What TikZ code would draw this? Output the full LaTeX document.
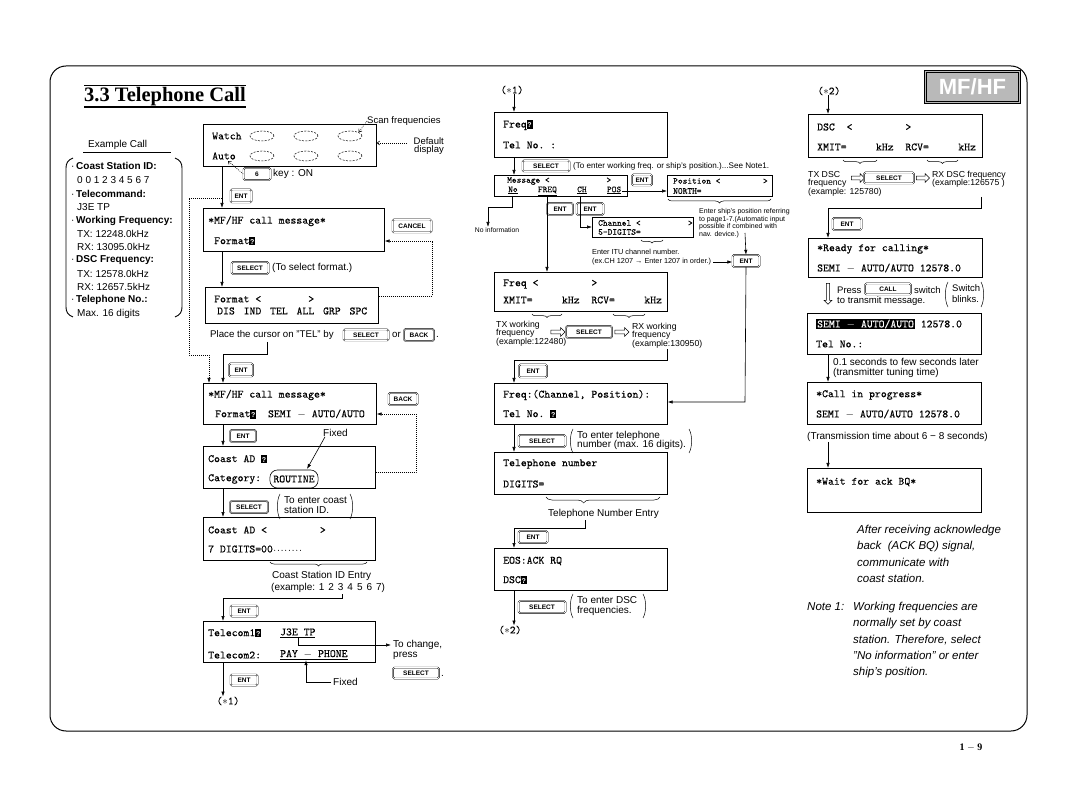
\documentclass[tikz,border=0pt]{standalone}
\usepackage{fontspec}
\setmainfont{Liberation Sans}
\setmonofont{lmmono10-regular.otf}[FakeBold=0.15]
\newfontfamily\serifbf{Liberation Serif}
\usetikzlibrary{arrows.meta,shapes.geometric,shapes.arrows,decorations.pathreplacing}
\newcommand{\crsr}{{\setlength{\fboxsep}{0.3pt}\colorbox{black}{\makebox[5.2pt]{\rule[-1pt]{0pt}{8.3pt}\textcolor{white}{\rmfamily\bfseries\fontsize{7}{7}\selectfont ?}}}}}
\newcommand{\invtxt}[1]{{\setlength{\fboxsep}{1pt}\colorbox{black}{\textcolor{white}{#1}}}}
\newcommand{\lpr}[3]{\draw[prn] (#1,#2) .. controls +(-3.5,6) and +(-3.5,-6) .. (#1,#3);}
\newcommand{\rpr}[3]{\draw[prn] (#1,#2) .. controls +(3.5,6) and +(3.5,-6) .. (#1,#3);}
\newcommand{\starnum}[1]{{\ttfamily(}$\ast${\ttfamily#1)}}
\begin{document}
\begin{tikzpicture}[x=1pt,y=-1pt,
  dispbox/.style={draw,line width=0.7pt,inner sep=0pt,anchor=north west},
  kbd/.style={draw,line width=0.4pt,double=white,double distance=0.7pt,rounded corners=1.5pt,inner sep=0pt,font={\bfseries\fontsize{6.5}{7}\selectfont}},
  mono/.style={anchor=west,inner sep=0pt,font={\ttfamily\fontsize{11.2}{12}\selectfont}},
  smono/.style={anchor=west,inner sep=0pt,font={\ttfamily\fontsize{9}{10}\selectfont}},
  lbl/.style={anchor=west,inner sep=0pt,font={\fontsize{10}{11}\selectfont}},
  mlbl/.style={anchor=north west,inner sep=0pt,align=left,font={\fontsize{10}{10}\selectfont}},
  slbl/.style={anchor=north west,inner sep=0pt,align=left,font={\fontsize{8.7}{8.4}\selectfont}},
  tlbl/.style={anchor=north west,inner sep=0pt,align=left,font={\fontsize{7}{7.8}\selectfont}},
  exl/.style={anchor=west,inner sep=0pt,font={\fontsize{10}{11}\selectfont}},
  ital/.style={anchor=north west,inner sep=0pt,align=left,font={\itshape\fontsize{11.5}{16.3}\selectfont}},
  conn/.style={line width=0.6pt,-{Latex[length=5pt,width=3.4pt]}},
  dconn/.style={line width=0.6pt,dash pattern=on 0.8pt off 1.2pt},
  dconna/.style={dconn,-{Latex[length=5pt,width=3.4pt]}},
  openarr/.style={dconn,-{Straight Barb[length=2.5pt,width=4pt]}},
  brc/.style={decorate,decoration={brace,mirror,amplitude=4pt},line width=0.5pt},
  harrow/.style={single arrow,draw,line width=0.5pt,inner sep=1.6pt,single arrow head extend=2.4pt,minimum height=14pt},
  dell/.style={ellipse,draw,dash pattern=on 2pt off 1.4pt,line width=0.5pt,minimum width=24pt,minimum height=10pt,inner sep=0pt},
  prn/.style={line width=0.5pt}]

\useasboundingbox (0,0) rectangle (1080,794);
\fill[white] (0,0) rectangle (1080,794);

% page frame
\draw[line width=1pt,rounded corners=16pt] (50,66) rectangle (1027,731);

% title
\node[anchor=base west,inner sep=0pt,font={\serifbf\bfseries\fontsize{20.5}{24}\selectfont}] (title) at (84,102) {3.3 Telephone Call};
\draw[line width=0.8pt] (84,85) -- (246,85);
\draw[line width=1.3pt] (84,107) -- (246,107);

% MF/HF badge
\node[draw,line width=1pt,fill=gray!55,minimum width=96pt,minimum height=33pt,anchor=north west,inner sep=0pt,text=white,font={\bfseries\fontsize{22}{22}\selectfont}] (mfhf) at (924,70) {MF/HF};
\draw[line width=0.5pt] ([shift={(2.5,2.5)}]mfhf.north west) rectangle ([shift={(-2.5,-2.5)}]mfhf.south east);

% Example call panel
\node[exl] (exc) at (88,145) {Example Call};
\draw[line width=0.8pt] (83,152) -- (171,152);
\draw[line width=0.9pt] (73,158) .. controls (68,160) and (66,163) .. (66,168) -- (66,307) .. controls (66,312) and (68,315) .. (73,317);
\draw[line width=0.9pt] (175,158) .. controls (180,160) and (182,163) .. (182,168) -- (182,307) .. controls (182,312) and (180,315) .. (175,317);
\node[exl] (x1) at (71,166) {\textperiodcentered\,\textbf{Coast Station ID:}};
\node[exl] (x2) at (77,180) {0 0 1 2 3 4 5 6 7};
\node[exl] (x3) at (71,194) {\textperiodcentered\,\textbf{Telecommand:}};
\node[exl] (x4) at (77,207) {J3E TP};
\node[exl] (x5) at (71,221) {\textperiodcentered\,\textbf{Working Frequency:}};
\node[exl] (x6) at (77,234) {TX: 12248.0kHz};
\node[exl] (x7) at (77,247) {RX: 13095.0kHz};
\node[exl] (x8) at (71,260) {\textperiodcentered\,\textbf{DSC Frequency:}};
\node[exl] (x9) at (77,274) {TX: 12578.0kHz};
\node[exl] (x10) at (77,287) {RX: 12657.5kHz};
\node[exl] (x11) at (71,300) {\textperiodcentered\,\textbf{Telephone No.:}};
\node[exl] (x12) at (77,314) {Max. 16 digits};

% ================= LEFT COLUMN =================
\coordinate (cx1) at (222,0);
\coordinate (cx2) at (223,0);

\node[dispbox,minimum width=173pt,minimum height=42pt] (wb) at (203,124) {};
\node[mono] (wba) at (212,136) {Watch};
\node[mono] (wbb) at (212,156) {Auto};
\node[dell] (el11) at (262,136) {};
\node[dell] (el12) at (306,136) {};
\node[dell] (el13) at (350,136) {};
\node[dell] (el21) at (262,156) {};
\node[dell] (el22) at (306,156) {};
\node[dell] (el23) at (350,156) {};
\node[anchor=west,inner sep=0pt,font={\fontsize{9.5}{10}\selectfont}] (scan) at (367,121) {Scan frequencies};
\node[anchor=east,inner sep=0pt,align=right,font={\fontsize{9.5}{8.5}\selectfont}] (defd) at (444,146) {Default\\display};
\coordinate (defa) at (407,143);

\node[kbd,minimum width=27pt,minimum height=12pt] (k6) at (257,174) {6};
\node[lbl] (k6t) at (273,174) {key : ON};
\coordinate (autop) at (228,161);

\node[kbd,minimum width=21pt,minimum height=13pt] (ent1) at (241,196) {ENT};
\coordinate (br1) at (222,198);
\coordinate (br2) at (189,198);
\coordinate (br3) at (189,355);
\coordinate (br4) at (209,355);

\node[dispbox,minimum width=181pt,minimum height=43pt] (m1) at (203,208) {};
\node[mono] (m1a) at (208,221) {*MF/HF call message*};
\node[mono] (m1b) at (214,241) {Format\crsr};
\node[kbd,minimum width=39pt,minimum height=13pt] (kc) at (412,226) {CANCEL};

\node[kbd,minimum width=37pt,minimum height=12pt] (s1) at (250,268) {SELECT};
\node[lbl] (s1t) at (272,268) {(To select format.)};

\node[dispbox,minimum width=173pt,minimum height=36pt] (fm) at (205,287) {};
\node[mono] (fma) at (214,299) {Format <~~~~~~~~>};
\node[mono] (fmb) at (217,311) {\makebox[150pt][l]{DIS\hfill IND\hfill TEL\hfill ALL\hfill GRP\hfill SPC}};
\coordinate (cd1) at (432,296);

\node[lbl,font={\fontsize{9.7}{11}\selectfont}] (pc) at (210,335) {Place the cursor on "TEL" by};
\node[kbd,minimum width=45pt,minimum height=11pt] (s2) at (366,335) {SELECT};
\node[lbl,font={\fontsize{9.7}{11}\selectfont}] (pcor) at (392,335) {or};
\node[kbd,minimum width=30pt,minimum height=12pt] (kb1) at (419,335) {BACK};
\node[lbl] (pcdot) at (436,337) {.};

\coordinate (pl1) at (267,342);
\coordinate (pl2) at (267,354);
\node[kbd,minimum width=24pt,minimum height=13pt] (ent2) at (241,370) {ENT};

\node[dispbox,minimum width=173pt,minimum height=41pt] (m2) at (203,383) {};
\node[mono] (m2a) at (208,395) {*MF/HF call message*};
\node[mono] (m2b) at (215,414) {Format\crsr~~SEMI $-$ AUTO/AUTO};
\node[kbd,minimum width=29pt,minimum height=12pt] (kb2) at (403,399) {BACK};

\node[kbd,minimum width=26pt,minimum height=12pt] (ent3) at (243,436) {ENT};
\node[lbl] (fx1) at (323,433) {Fixed};
\coordinate (rtp) at (307,469);

\node[dispbox,minimum width=172pt,minimum height=42pt] (ca) at (203,446) {};
\node[mono] (caa) at (208,459) {Coast AD \crsr};
\node[mono] (cab) at (208,479) {Category:};
\node[mono,anchor=center,draw,line width=0.6pt,rounded corners=7.5pt,inner xsep=3.5pt,inner ysep=0pt,minimum height=18pt] (rt) at (294,479) {ROUTINE};
\coordinate (bd1) at (416,472);

\node[kbd,minimum width=38pt,minimum height=12pt] (s3) at (249,507) {SELECT};
\node[mlbl,font={\fontsize{10}{10.5}\selectfont}] (s3t) at (284,496) {To enter coast\\station ID.};
\lpr{280}{494}{519}
\rpr{350}{494}{519}

\node[dispbox,minimum width=172pt,minimum height=43pt] (cb) at (203,517) {};
\node[mono] (cba) at (208,530) {Coast AD <~~~~~~~~~>};
\node[mono] (cbb) at (208,549) {7 DIGITS=00{\fontsize{7}{7}\selectfont ········}};
\coordinate (cbr1) at (270,562);
\coordinate (cbr2) at (367,562);
\draw[brc] (cbr1) -- (cbr2);
\node[lbl] (cse) at (272,576) {Coast Station ID Entry};
\node[lbl] (cse2) at (271,588) {(example: 1\hspace{4pt}2\hspace{4pt}3\hspace{4pt}4\hspace{4pt}5\hspace{4pt}6\hspace{4pt}7)};
\coordinate (cl1) at (342,594);
\coordinate (cl2) at (342,598);
\node[kbd,minimum width=27pt,minimum height=11pt] (ent4) at (244,611) {ENT};

\node[dispbox,minimum width=172pt,minimum height=41pt] (tc) at (203,621) {};
\node[mono] (tca) at (208,633) {Telecom1\crsr};
\node[mono] (tcb) at (280,633) {\underline{J3E TP}};
\node[mono] (tcc) at (208,655) {Telecom2:};
\node[mono] (tcd) at (280,655) {\underline{PAY $-$ PHONE}};
\node[lbl] (tochg) at (393,645) {To change,};
\node[lbl] (press) at (393,656) {press};
\node[kbd,minimum width=46pt,minimum height=11pt] (s4) at (416,673) {SELECT};
\node[lbl] (pdot) at (441,676) {.};
\node[lbl] (fx2) at (333,682) {Fixed};
\coordinate (fxc) at (306,682);

\node[inner sep=0pt,font={\fontsize{11}{12}\selectfont}] (st1) at (228,701) {\starnum{1}};
\node[kbd,minimum width=27pt,minimum height=11pt] (ent5) at (244,680) {ENT};

% ================= MIDDLE COLUMN =================
\coordinate (mx) at (514,0);
\node[inner sep=0pt,font={\fontsize{11}{12}\selectfont}] (st1b) at (512,90) {\starnum{1}};

\node[dispbox,minimum width=173pt,minimum height=45pt] (f1) at (494,112) {};
\node[mono] (f1a) at (503,125) {Freq\crsr};
\node[mono] (f1b) at (503,145) {Tel No. :};
\node[kbd,minimum width=47pt,minimum height=11pt] (s5) at (546,166) {SELECT};
\node[anchor=west,inner sep=0pt,font={\fontsize{8.1}{9}\selectfont}] (nt1) at (573,166) {(To enter working freq. or ship's position.)...See Note1.};

\node[dispbox,minimum width=133pt,minimum height=21pt] (msg) at (494,175) {};
\node[smono] (msga) at (507,181) {Message <~~~~~~~~~~~~>};
\node[smono] (msgb) at (508,191) {\makebox[113pt][l]{\underline{No}\hfill\underline{FREQ}\hfill\underline{CH}\hfill\underline{POS}}};
\node[kbd,minimum width=20pt,minimum height=11pt] (ent6) at (642,180) {ENT};

\node[dispbox,minimum width=105pt,minimum height=21pt] (pos) at (667,175) {};
\node[smono] (posa) at (673,181) {Position <~~~~~~~~~>};
\node[smono] (posb) at (673,191) {NORTH=};
\coordinate (pbr1) at (668,199);
\coordinate (pbr2) at (771,199);
\draw[brc] (pbr1) -- (pbr2);
\node[tlbl] (pnote) at (699,208) {Enter ship's position referring\\to page1-7.(Automatic input\\possible if combined with\\nav. device.)};
\coordinate (pn1) at (745,233);
\node[kbd,minimum width=27pt,minimum height=12pt] (ent7) at (746,261) {ENT};

\node[kbd,minimum width=26pt,minimum height=12pt] (ent8) at (560,209) {ENT};
\node[kbd,minimum width=27pt,minimum height=12pt] (ent9) at (590,209) {ENT};

\node[dispbox,minimum width=101pt,minimum height=20pt] (ch) at (592,217) {};
\node[smono] (cha) at (598,223) {Channel <~~~~~~~~~~>};
\node[smono] (chb) at (598,232) {5-DIGITS=};
\coordinate (chbr1) at (641,240);
\coordinate (chbr2) at (663,240);
\draw[brc,decoration={amplitude=3pt}] (chbr1) -- (chbr2);
\node[tlbl,font={\fontsize{7.3}{9}\selectfont}] (itu) at (592,249) {Enter ITU channel number.\\(ex.CH 1207 → Enter 1207 in order.)};
\coordinate (it1) at (713,262);

\coordinate (pCh) at (580,196);
\coordinate (chy) at (580,227);
\coordinate (pNo) at (512,196);
\coordinate (no1) at (512,207);
\coordinate (no2) at (488,207);
\node[anchor=north,inner sep=0pt,font={\fontsize{6.8}{7}\selectfont}] (noinf) at (497,227) {No information};
\coordinate (pFr) at (547,196);

\node[dispbox,minimum width=173pt,minimum height=39pt] (f2) at (494,272) {};
\node[mono] (f2a) at (503,284) {Freq <~~~~~~~~~>};
\node[mono] (f2b) at (503,300) {XMIT=~~~~~kHz~~RCV=~~~~~kHz};
\coordinate (fb1) at (532,314);
\coordinate (fb2) at (562,314);
\coordinate (fb3) at (613,314);
\coordinate (fb4) at (645,314);
\draw[brc,decoration={amplitude=3.5pt}] (fb1) -- (fb2);
\draw[brc,decoration={amplitude=3.5pt}] (fb3) -- (fb4);
\node[slbl] (txw) at (496,321) {TX working\\frequency\\(example:122480)};
\node[harrow] (ha1) at (557,332) {};
\node[kbd,minimum width=46pt,minimum height=12pt] (s6) at (589,332) {SELECT};
\node[harrow] (ha2) at (621,332) {};
\node[slbl] (rxw) at (632,323) {RX working\\frequency\\(example:130950)};
\coordinate (rx1) at (667,349);
\coordinate (rx2) at (667,360);
\node[kbd,minimum width=28pt,minimum height=13pt] (ent10) at (533,371) {ENT};

\node[dispbox,minimum width=173pt,minimum height=41pt] (f3) at (494,383) {};
\node[mono] (f3a) at (503,395) {Freq:(Channel, Position):};
\node[mono] (f3b) at (503,414) {Tel No. \crsr};
\coordinate (rl) at (745,402);

\node[kbd,minimum width=47pt,minimum height=12pt] (s7) at (542,441) {SELECT};
\node[mlbl,font={\fontsize{10}{9.5}\selectfont}] (tt) at (577,431) {To enter telephone\\number (max. 16 digits).};
\lpr{573}{429}{453}
\rpr{689}{429}{453}

\node[dispbox,minimum width=173pt,minimum height=42pt] (tel) at (494,452) {};
\node[mono] (tela) at (503,464) {Telephone number};
\node[mono] (telb) at (503,484) {DIGITS=};
\coordinate (tb1) at (546,497);
\coordinate (tb2) at (660,497);
\draw[brc,decoration={amplitude=6pt,aspect=0.33}] (tb1) -- (tb2);
\node[lbl] (tne) at (548,514) {Telephone Number Entry};
\coordinate (tn1) at (585,520);
\coordinate (tn2) at (585,528);
\node[kbd,minimum width=29pt,minimum height=12pt] (ent11) at (533,537) {ENT};

\node[dispbox,minimum width=173pt,minimum height=42pt] (eos) at (494,548) {};
\node[mono] (eosa) at (503,561) {EOS:ACK RQ};
\node[mono] (eosb) at (503,580) {DSC\crsr};
\node[inner sep=0pt,font={\fontsize{11}{12}\selectfont}] (st2) at (510,630) {\starnum{2}};
\node[kbd,minimum width=47pt,minimum height=12pt] (s8) at (542,607) {SELECT};
\node[mlbl,font={\fontsize{10}{10}\selectfont}] (dsct) at (577,596) {To enter DSC\\frequencies.};
\lpr{573}{594}{618}
\rpr{643}{594}{618}

% ================= RIGHT COLUMN =================
\coordinate (rx) at (828,0);
\node[inner sep=0pt,font={\fontsize{11}{12}\selectfont}] (st3) at (829,91) {\starnum{2}};

\node[dispbox,minimum width=174pt,minimum height=43pt] (dsc) at (808,114) {};
\node[mono] (dsca) at (817,127) {DSC~~<~~~~~~~~~>};
\node[mono] (dscb) at (817,147) {XMIT=~~~~~kHz~~RCV=~~~~~kHz};
\coordinate (db1) at (843,160);
\coordinate (db2) at (877,160);
\coordinate (db3) at (927,160);
\coordinate (db4) at (958,160);
\draw[brc,decoration={amplitude=3.5pt}] (db1) -- (db2);
\draw[brc,decoration={amplitude=3.5pt}] (db3) -- (db4);
\node[slbl] (txd) at (808,171) {TX DSC\\frequency\\(example: 125780)};
\node[harrow,minimum height=13pt] (ha3) at (857,178) {};
\node[kbd,minimum width=50pt,minimum height=11pt] (s9) at (889,178) {SELECT};
\node[harrow,minimum height=13pt] (ha4) at (922,178) {};
\node[slbl] (rxd) at (932,171) {RX DSC frequency\\(example:126575 )};
\coordinate (rd1) at (981,197);
\coordinate (rd2) at (981,208);
\node[kbd,minimum width=29pt,minimum height=12pt] (ent12) at (847,224) {ENT};

\node[dispbox,minimum width=174pt,minimum height=39pt] (rdy) at (808,238) {};
\node[mono] (rdya) at (817,249) {*Ready for calling*};
\node[mono] (rdyb) at (817,268) {SEMI $-$ AUTO/AUTO 12578.0};

\node[harrow,shape border rotate=270,minimum height=21pt,inner sep=1.4pt] (ha5) at (828,293) {};
\node[lbl,font={\fontsize{9.5}{10}\selectfont}] (prs) at (837,290) {Press};
\node[kbd,minimum width=46pt,minimum height=11pt] (kcall) at (888,289) {CALL};
\node[lbl,font={\fontsize{9.5}{10}\selectfont}] (swt) at (914,290) {switch};
\node[lbl,font={\fontsize{9.5}{10}\selectfont}] (ttm) at (837,301) {to transmit message.};
\node[mlbl,font={\fontsize{9.5}{11}\selectfont}] (sbl) at (952,284) {Switch\\blinks.};
\lpr{948}{282}{307}
\rpr{981}{282}{307}

\node[dispbox,minimum width=174pt,minimum height=41pt] (semi) at (807,313) {};
\node[mono] (semia) at (816,324) {\invtxt{SEMI $-$ AUTO/AUTO} 12578.0};
\node[mono] (semib) at (816,344) {Tel No.:};
\node[mlbl,font={\fontsize{10}{10.5}\selectfont}] (tun) at (833,358) {0.1 seconds to few seconds later\\(transmitter tuning time)};

\node[dispbox,minimum width=174pt,minimum height=42pt] (cip) at (807,382) {};
\node[mono] (cipa) at (816,395) {*Call in progress*};
\node[mono] (cipb) at (816,414) {SEMI $-$ AUTO/AUTO 12578.0};
\node[lbl] (trt) at (807,437) {(Transmission time about 6 − 8 seconds)};

\node[dispbox,minimum width=174pt,minimum height=44pt] (wt) at (807,468) {};
\node[mono] (wta) at (816,482) {*Wait for ack BQ*};

\node[ital] (ack) at (857,525) {After receiving acknowledge\\back~ (ACK BQ) signal,\\communicate with\\coast station.};
\node[ital] (n1) at (807,602) {Note 1:};
\node[ital] (n1t) at (853,602) {Working frequencies are\\normally set by coast\\station. Therefore, select\\"No information" or enter\\ship's position.};

\node[inner sep=0pt,font={\serifbf\bfseries\fontsize{10}{10}\selectfont}] (pg) at (971,748) {1 $-$ 9};

% ================= CONNECTORS =================
\draw[openarr] (scan.west) -- (el13.north east);
\draw[openarr] (defa) -- (wb.east |- defa);
\draw[openarr] (k6.west) -- (autop);
\draw[conn] (cx1 |- wb.south) -- (cx1 |- m1.north);
\draw[conn] (cx1 |- m1.south) -- (cx1 |- fm.north);
\draw[dconna] (fm.east |- cd1) -- (cd1) -- (cd1 |- m1b) -- (m1.east |- m1b);
\draw[dconna] (br1) -- (br2) -- (br3) -- (br4) -- (br4 |- m2.north);
\draw[conn] (pl1) -- (pl2) -- (cx2 |- pl2) -- (cx2 |- m2.north);
\draw[conn] (cx2 |- m2.south) -- (cx2 |- ca.north);
\draw[conn] ([xshift=2pt]fx1.south west) -- (rtp);
\draw[dconna] (ca.east |- bd1) -- (bd1) -- (bd1 |- m2b) -- (m2.east |- m2b);
\draw[conn] (cx2 |- ca.south) -- (cx2 |- cb.north);
\draw[conn] (cl1) -- (cl2) -- (cx2 |- cl2) -- (cx2 |- tc.north);
\draw[conn] (tcb.south) |- ([xshift=-2pt]tochg.west);
\draw[conn] ([xshift=-2pt]fx2.west) -- (fxc) -- (fxc |- tcd.south);
\draw[conn] (cx2 |- tc.south) -- (cx2 |- st1.north);

\draw[conn] (mx |- st1b.south) -- (mx |- f1.north);
\draw[conn] (mx |- f1.south) -- (mx |- msg.north);
\draw[conn] ([xshift=1pt]msgb.east) -- (pos.west |- msgb.east);
\draw[conn] (pn1) -- (ent7.north);
\draw[conn] (it1) -- (ent7.west |- it1);
\draw[conn] (pCh) -- (chy) -- (ch.west |- chy);
\draw[conn] (pNo) -- (no1) -- (no2) -- (no2 |- noinf.north);
\draw[conn] (pFr) -- (pFr |- f2.north);
\draw[conn] (rx1) -- (rx2) -- (mx |- rx2) -- (mx |- f3.north);
\draw[conn] (ent7.south) -- (rl) -- (f3.east |- rl);
\draw[conn] (mx |- f3.south) -- (mx |- tel.north);
\draw[conn] (tn1) -- (tn2) -- (mx |- tn2) -- (mx |- eos.north);
\draw[conn] (mx |- eos.south) -- (mx |- st2.north);

\draw[conn] (rx |- st3.south) -- (rx |- dsc.north);
\draw[conn] (rd1) -- (rd2) -- (rx |- rd2) -- (rx |- rdy.north);
\draw[conn] (rx |- semi.south) -- (rx |- cip.north);
\draw[conn] (rx |- trt.south) -- (rx |- wt.north);
\end{tikzpicture}
\end{document}
